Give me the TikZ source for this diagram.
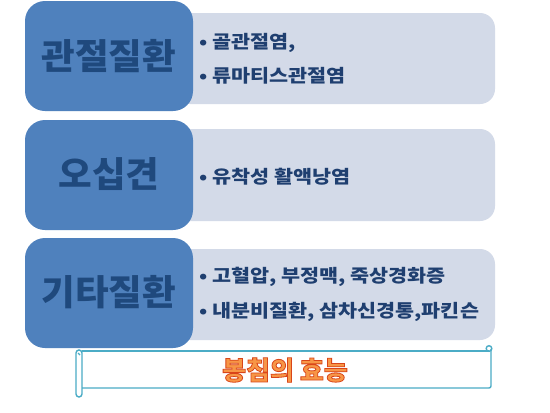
\documentclass[tikz,border=0pt]{standalone}
\usepackage{fontspec}
\setmainfont{Noto Sans CJK KR}
\newfontfamily\itemfont{Noto Sans CJK KR}[FakeStretch=1.15]
\newfontfamily\catfont{Noto Sans CJK KR}[FakeStretch=1.03]
\usetikzlibrary{calc}
\definecolor{darkbox}{HTML}{4F81BD}
\definecolor{lightbox}{HTML}{D3DAE8}
\definecolor{titletxt}{HTML}{1F497D}
\definecolor{itemtxt}{HTML}{1F3F70}
\definecolor{scrollc}{HTML}{4BACC6}
\definecolor{orangefill}{HTML}{F79646}
\newcommand{\outlinedtext}[1]{\special{pdf:literal direct 2 Tr 0.8 w 0.85 0.27 0.10 RG}#1\special{pdf:literal direct 0 Tr}}
\tikzset{
  catbox/.style={fill=darkbox, rounded corners=20pt},
  itembox/.style={fill=lightbox, rounded corners=15pt},
  cattext/.style={text=titletxt, font=\catfont\fontsize{35.5}{40}\selectfont\bfseries, inner sep=0pt},
  itemtext/.style={text=itemtxt, font=\itemfont\fontsize{18}{22}\selectfont\bfseries, anchor=west, inner sep=0pt},
  scrollline/.style={draw=scrollc, line width=1.4pt},
  headtext/.style={font=\fontsize{26}{30}\selectfont\bfseries, inner sep=0pt, text=orangefill}
}
\begin{document}
\begin{tikzpicture}[x=1pt,y=-1pt]
\useasboundingbox (0,0) rectangle (550,413);
\fill[white] (0,0) rectangle (550,413);
% row 1
\path[itembox] (175,13) rectangle (495,104);
\path[catbox] (25,1) rectangle (193,111);
\node[cattext] (c1) at (109,56) {관절질환};
\node[itemtext] (i1a) at (199,43) {• 골관절염,};
\node[itemtext] (i1b) at (199,76) {• 류마티스관절염};
% row 2
\path[itembox] (175,129) rectangle (495,221);
\path[catbox] (25,120) rectangle (193,230);
\node[cattext] (c2) at (109,174) {오십견};
\node[itemtext] (i2a) at (199,177) {• 유착성 활액낭염};
% row 3
\path[itembox] (175,249) rectangle (495,340);
\path[catbox] (25,238) rectangle (193,348);
\node[cattext] (c3) at (109,292) {기타질환};
\node[itemtext] (i3a) at (199,277) {• 고혈압, 부정맥, 죽상경화증};
\node[itemtext] (i3b) at (199,312) {• 내분비질환, 삼차신경통,파킨슨};
% scroll
\fill[white] (82,351) rectangle (491,389);
\draw[scrollline] (82,351) -- (489,351);
\draw[scrollline] (491,349) -- (491,386) arc[start angle=0,end angle=90,radius=2] -- (82,388);
\draw[scrollline, rounded corners=3pt] (76,350) rectangle (82,397);
\draw[scrollline] (489,348.5) circle[radius=2.8];
\draw[scrollline] (78,353) -- (80,355);
% title
\node[headtext] (t) at (285,370) {\outlinedtext{봉침의 효능}};
\end{tikzpicture}
\end{document}
